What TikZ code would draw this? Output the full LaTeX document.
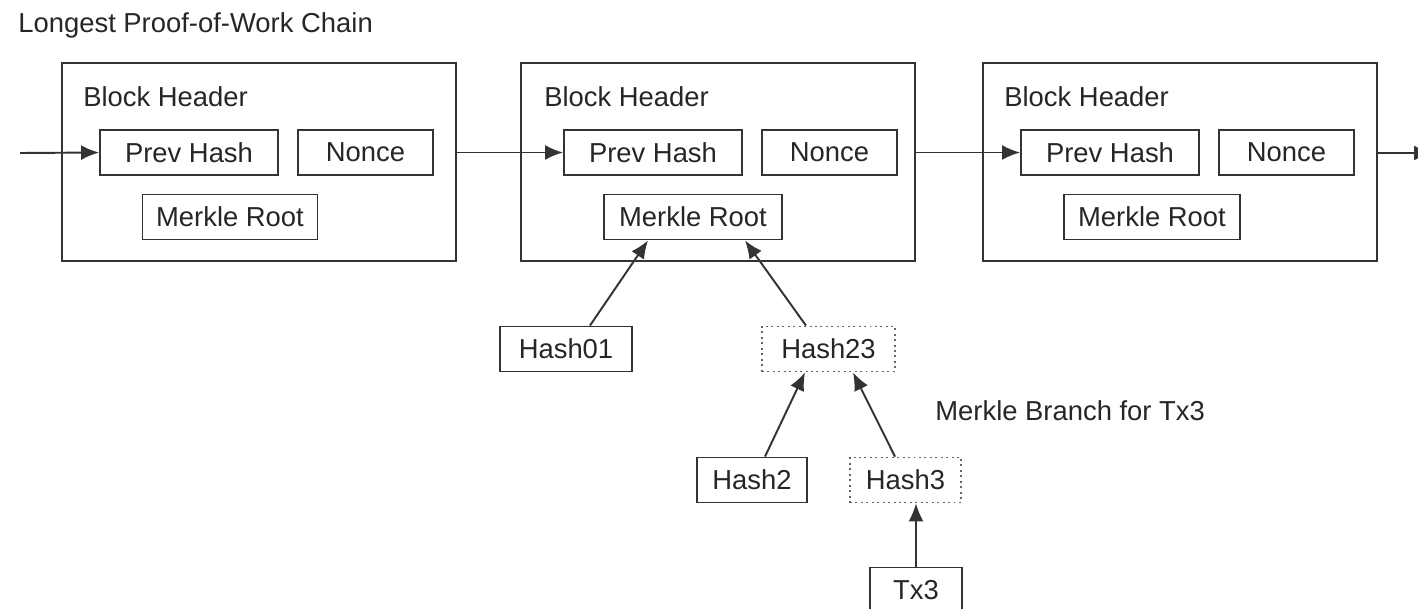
\documentclass[tikz,border=0pt]{standalone}
\usepackage{fontspec}
\setmainfont{Liberation Sans}
\usepackage{tikz}
\usetikzlibrary{arrows.meta,positioning,calc}
\definecolor{lineg}{HTML}{333333}

\begin{document}
\begin{tikzpicture}[
    x=0.02cm, y=-0.02cm,
    font=\fontsize{15.6}{18}\selectfont,
    block/.style={rectangle, draw=lineg, line width=1.1pt, minimum width=7.88cm, minimum height=3.96cm},
    field/.style={rectangle, draw=lineg, line width=1.1pt, minimum height=0.9cm, inner sep=0pt, text=black!85},
    branch/.style={field, draw=black!60, dotted, line width=1pt},
    lbl/.style={text=black!85, inner sep=0pt},
    arrow/.style={-{Latex[length=0.36cm, width=0.3cm]}, line width=1.1pt, lineg}
]
\useasboundingbox (0,0) rectangle (1418,609);

\node[lbl, anchor=west] (title) at (18,25) {Longest Proof-of-Work Chain};

% Block 1
\node[block] (block1) at (259,162) {};
\node[lbl, anchor=west] (head1) at (83,97) {Block Header};
\node[field, minimum width=3.56cm] (prev1) at (189,152.5) {Prev Hash};
\node[field, minimum width=2.7cm] (nonce1) at (365.5,152.5) {Nonce};
\node[field, minimum width=3.5cm] (root1) at (230,217) {Merkle Root};

% Block 2
\node[block] (block2) at (718,162) {};
\node[lbl, anchor=west] (head2) at (544,97) {Block Header};
\node[field, minimum width=3.56cm] (prev2) at (653,152.5) {Prev Hash};
\node[field, minimum width=2.7cm] (nonce2) at (829.5,152.5) {Nonce};
\node[field, minimum width=3.56cm] (root2) at (693,217) {Merkle Root};

% Block 3
\node[block] (block3) at (1180,162) {};
\node[lbl, anchor=west] (head3) at (1004,97) {Block Header};
\node[field, minimum width=3.56cm] (prev3) at (1110,152.5) {Prev Hash};
\node[field, minimum width=2.7cm] (nonce3) at (1286.5,152.5) {Nonce};
\node[field, minimum width=3.52cm] (root3) at (1152,217) {Merkle Root};

% Merkle tree
\node[field, minimum width=2.64cm] (hash01) at (566,349) {Hash01};
\node[branch, minimum width=2.66cm] (hash23) at (828.5,349) {Hash23};
\node[field, minimum width=2.2cm] (hash2) at (752,480) {Hash2};
\node[branch, minimum width=2.22cm] (hash3) at (905.5,480) {Hash3};
\node[field, minimum width=1.84cm] (tx3) at (916,590) {Tx3};
\node[lbl, anchor=west] (blabel) at (935,411) {Merkle Branch for Tx3};

% Chain links
\coordinate (cin) at (20,153);
\coordinate (cout) at (1432,153);
\draw[arrow] (cin) -- (prev1.west);
\draw[arrow] (block1.east |- prev2.west) -- (prev2.west);
\draw[arrow] (block2.east |- prev3.west) -- (prev3.west);
\draw[arrow] (block3.east |- cout) -- (cout);

% Hash links
\draw[arrow] ([xshift=0.48cm]hash01.north) -- ([xshift=-0.9cm]root2.south);
\draw[arrow] ([xshift=-0.45cm]hash23.north) -- ([xshift=1.04cm]root2.south);
\draw[arrow] ([xshift=0.26cm]hash2.north) -- ([xshift=-0.47cm]hash23.south);
\draw[arrow] ([xshift=-0.21cm]hash3.north) -- ([xshift=0.49cm]hash23.south);
\draw[arrow] (tx3.north) -- (tx3.north |- hash3.south);

\end{tikzpicture}
\end{document}
